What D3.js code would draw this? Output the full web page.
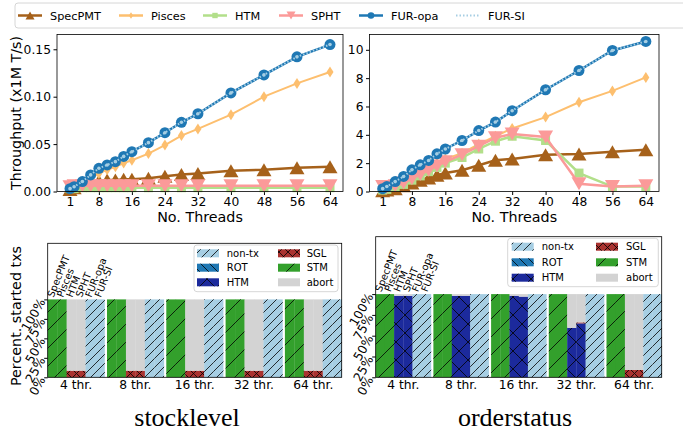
<!DOCTYPE html>
<html>
<head>
<meta charset="utf-8">
<script src="https://cdn.jsdelivr.net/npm/d3@7"></script>
<style>
  body { margin: 0; background: #fff; }
  text { font-family: "DejaVu Sans", sans-serif; fill: #000; }
</style>
</head>
<body>
<div id="chart"></div>
<script>
// ---- data ----
const threads = [1, 2, 4, 6, 8, 10, 12, 14, 16, 20, 24, 28, 32, 40, 48, 56, 64];
const xTicks = [1, 8, 16, 24, 32, 40, 48, 56, 64];
const systems = ["SpecPMT", "Pisces", "HTM", "SPHT", "FUR-opa", "FUR-SI"];

// stocklevel throughput (x1M T/s)
const stockSpecPMT = [0.002, 0.004, 0.007, 0.010, 0.011, 0.012, 0.012, 0.013, 0.013, 0.014, 0.016, 0.018, 0.019, 0.022, 0.023, 0.025, 0.026];
const stockPisces  = [0.003, 0.005, 0.009, 0.014, 0.019, 0.023, 0.026, 0.030, 0.033, 0.040, 0.049, 0.059, 0.066, 0.081, 0.100, 0.114, 0.126];
const stockHTM     = [0.003, 0.003, 0.004, 0.004, 0.004, 0.004, 0.004, 0.004, 0.004, 0.004, 0.004, 0.004, 0.004, 0.004, 0.004, 0.004, 0.004];
const stockSPHT    = [0.005, 0.006, 0.006, 0.006, 0.006, 0.006, 0.006, 0.006, 0.006, 0.006, 0.006, 0.006, 0.006, 0.006, 0.006, 0.006, 0.006];
const stockFURopa  = [0.003, 0.005, 0.0105, 0.0175, 0.0245, 0.028, 0.0315, 0.037, 0.042, 0.0515, 0.062, 0.073, 0.082, 0.104, 0.123, 0.142, 0.155];
const stockFURSI   = [0.003, 0.005, 0.0105, 0.0175, 0.0245, 0.028, 0.0315, 0.037, 0.042, 0.0515, 0.062, 0.073, 0.082, 0.104, 0.123, 0.142, 0.155];

// orderstatus throughput (x1M T/s)
const orderSpecPMT = [0.05, 0.1, 0.2, 0.4, 0.6, 0.8, 0.95, 1.15, 1.3, 1.5, 1.85, 2.2, 2.3, 2.6, 2.65, 2.8, 2.95];
const orderPisces  = [0.15, 0.3, 0.55, 0.85, 1.15, 1.45, 1.7, 2.0, 2.3, 2.7, 3.35, 3.9, 4.45, 5.25, 6.3, 7.1, 8.05];
const orderHTM     = [0.1, 0.15, 0.3, 0.5, 0.8, 1.1, 1.4, 1.7, 2.0, 2.4, 3.0, 3.55, 3.9, 3.6, 1.3, 0.35, 0.35];
const orderSPHT    = [0.35, 0.3, 0.4, 0.6, 0.9, 1.2, 1.5, 1.8, 2.1, 2.6, 3.2, 3.8, 4.05, 3.85, 0.55, 0.35, 0.4];
const orderFURopa  = [0.2, 0.35, 0.7, 1.06, 1.53, 1.88, 2.19, 2.66, 3.0, 3.6, 4.3, 4.9, 5.7, 7.18, 8.54, 9.95, 10.59];
const orderFURSI   = [0.2, 0.35, 0.7, 1.06, 1.53, 1.88, 2.19, 2.66, 3.0, 3.6, 4.3, 4.9, 5.7, 7.18, 8.54, 9.95, 10.59];

// share of started txs: rows = systems, columns = thread groups
const thrLabels = ["4 thr.", "8 thr.", "16 thr.", "32 thr.", "64 thr."];
const txTypes = ["non-tx", "ROT", "HTM", "SGL", "STM", "abort"];

const stockNonTx = [[0,0,0,0,0],[0,0,0,0,0],[0,0,0,0,0],[0,0,0,0,0],[1,1,1,1,1],[1,1,1,1,1]];
const stockROT   = [[0,0,0,0,0],[0,0,0,0,0],[0,0,0,0,0],[0,0,0,0,0],[0,0,0,0,0],[0,0,0,0,0]];
const stockHTMtx = [[0,0,0,0,0],[0,0,0,0,0],[0,0,0,0,0],[0,0,0,0,0],[0,0,0,0,0],[0,0,0,0,0]];
const stockSGL   = [[0,0,0,0,0],[0,0,0,0,0],[0.085,0.085,0.085,0.085,0.085],[0.085,0.085,0.085,0.085,0.085],[0,0,0,0,0],[0,0,0,0,0]];
const stockSTM   = [[1,1,1,1,1],[1,1,1,1,1],[0,0,0,0,0],[0,0,0,0,0],[0,0,0,0,0],[0,0,0,0,0]];
const stockAbort = [[0,0,0,0,0],[0,0,0,0,0],[0.915,0.915,0.915,0.915,0.915],[0.915,0.915,0.915,0.915,0.915],[0,0,0,0,0],[0,0,0,0,0]];

const orderNonTx = [[0,0,0,0,0],[0,0,0,0,0],[0,0,0,0,0],[0,0,0,0,0],[1,1,1,1,1],[1,1,1,1,1]];
const orderROT   = [[0,0,0,0,0],[0,0,0,0,0],[0,0,0,0,0],[0,0,0,0,0],[0,0,0,0,0],[0,0,0,0,0]];
const orderHTMtx = [[0,0,0,0,0],[0,0,0,0,0],[0.98,0.98,0.98,0.595,0],[0.98,0.98,0.97,0.648,0],[0,0,0,0,0],[0,0,0,0,0]];
const orderSGL   = [[0,0,0,0,0],[0,0,0,0,0],[0,0,0,0,0.088],[0,0,0,0.012,0.088],[0,0,0,0,0],[0,0,0,0,0]];
const orderSTM   = [[1,1,1,1,1],[1,1,1,1,1],[0,0,0,0,0],[0,0,0,0,0],[0,0,0,0,0],[0,0,0,0,0]];
const orderAbort = [[0,0,0,0,0],[0,0,0,0,0],[0.02,0.02,0.02,0.405,0.912],[0.02,0.02,0.03,0.34,0.912],[0,0,0,0,0],[0,0,0,0,0]];

// ---- styles ----
const lineColor = {"SpecPMT": "#a6611a", "Pisces": "#fdbf6f", "HTM": "#b2df8a", "SPHT": "#fb9a99", "FUR-opa": "#1f78b4", "FUR-SI": "#a6cee3"};
const txColor = {"non-tx": "#a6cee3", "ROT": "#1f78b4", "HTM": "#1c2a9c", "SGL": "#aa3330", "STM": "#33a02c", "abort": "#d3d3d3"};
const txHatch = {"non-tx": "h-fine-fwd", "ROT": "h-fine-back", "HTM": "h-cross", "SGL": "h-fine-cross", "STM": "h-fwd", "abort": null};

const svg = d3.select("#chart").append("svg")
    .attr("width", 683)
    .attr("height", 433);

const defs = svg.append("defs");
function hatch(id, p, kinds) {
  let d = "";
  if (kinds.includes("/")) d += `M${-p/2},${p/2}L${p/2},${-p/2}M0,${p}L${p},0M${p/2},${1.5*p}L${1.5*p},${p/2}`;
  if (kinds.includes("\\")) d += `M${-p/2},${p/2}L${p/2},${1.5*p}M0,0L${p},${p}M${p/2},${-p/2}L${1.5*p},${p/2}`;
  defs.append("pattern")
      .attr("id", id)
      .attr("patternUnits", "userSpaceOnUse")
      .attr("width", p).attr("height", p)
    .append("path")
      .attr("d", d)
      .attr("stroke", "#000")
      .attr("stroke-width", 0.8)
      .attr("fill", "none");
}
hatch("h-fwd", 18, "/");
hatch("h-fine-fwd", 9, "/");
hatch("h-fine-back", 9, "\\");
hatch("h-cross", 18, "/\\");
hatch("h-fine-cross", 9, "/\\");

function marker(name) {
  switch (name) {
    case "SpecPMT": return "M0,-6.5L7.5,6.5L-7.5,6.5Z";
    case "SPHT":    return "M0,6.5L7.5,-6.5L-7.5,-6.5Z";
    case "Pisces":  return "M0,-5.5L3.5,0L0,5.5L-3.5,0Z";
    case "HTM":     return "M-4.5,-4.5H4.5V4.5H-4.5Z";
    case "FUR-opa": return d3.symbol(d3.symbolCircle, Math.PI * 5.5 * 5.5)();
    default:        return d3.symbol(d3.symbolCircle, Math.PI * 1.8 * 1.8)();
  }
}

// ---- throughput line panels ----
function linePanel(p) {
  const x = d3.scaleLinear().domain([-2.15, 67.15]).range([p.left, p.right]);
  const y = d3.scaleLinear().domain([0, p.ymax]).range([p.bottom, p.top]);
  const g = svg.append("g");

  g.append("g")
      .attr("transform", `translate(0,${p.bottom})`)
      .call(d3.axisBottom(x).tickValues(xTicks).tickSize(3.5).tickPadding(2.5))
      .call(a => a.select(".domain").remove())
      .selectAll("text").style("font-size", "12.3px");

  g.append("g")
      .attr("transform", `translate(${p.left},0)`)
      .call(d3.axisLeft(y).tickValues(p.yTicks).tickFormat(p.fmt).tickSize(3.5).tickPadding(2.5))
      .call(a => a.select(".domain").remove())
      .selectAll("text").style("font-size", "12.3px");

  systems.forEach((s, i) => {
    const vals = p.series[i];
    const pts = threads.map((t, j) => [t, vals[j]]);
    const line = d3.line().x(d => x(d[0])).y(d => y(d[1]));
    g.append("path")
        .datum(pts)
        .attr("fill", "none")
        .attr("stroke", lineColor[s])
        .attr("stroke-width", s === "FUR-SI" ? 2 : (s === "Pisces" ? 2 : 2.5))
        .attr("stroke-dasharray", s === "FUR-SI" ? "1.5,2" : null)
        .attr("d", line);
    g.selectAll(null)
      .data(pts)
      .join("path")
        .attr("transform", d => `translate(${x(d[0])},${y(d[1])})`)
        .attr("d", marker(s))
        .attr("fill", lineColor[s]);
  });

  g.append("rect")
      .attr("x", p.left).attr("y", p.top)
      .attr("width", p.right - p.left).attr("height", p.bottom - p.top)
      .attr("fill", "none").attr("stroke", "#000").attr("stroke-width", 0.8);

  g.append("text")
      .attr("x", (p.left + p.right) / 2)
      .attr("y", 221.5)
      .attr("text-anchor", "middle")
      .style("font-size", "14.3px")
      .text("No. Threads");
}

linePanel({left: 57, right: 343, top: 34.5, bottom: 191.5, ymax: 0.1656,
  yTicks: [0, 0.05, 0.10, 0.15], fmt: d3.format(".2f"),
  series: [stockSpecPMT, stockPisces, stockHTM, stockSPHT, stockFURopa, stockFURSI]});
linePanel({left: 369.5, right: 659, top: 34.5, bottom: 191.5, ymax: 11.08,
  yTicks: [0, 2, 4, 6, 8, 10], fmt: d3.format("d"),
  series: [orderSpecPMT, orderPisces, orderHTM, orderSPHT, orderFURopa, orderFURSI]});

svg.append("text")
    .attr("transform", "translate(20.5,113) rotate(-90)")
    .attr("text-anchor", "middle")
    .style("font-size", "14.3px")
    .text("Throughput (x1M T/s)");

// top legend
const leg = svg.append("g");
leg.append("rect")
    .attr("x", 15).attr("y", 3).attr("width", 700).attr("height", 25).attr("rx", 3)
    .attr("fill", "#fff").attr("stroke", "#ccc").attr("stroke-width", 0.8);
const legX = [18, 119, 203, 279, 359, 456];
systems.forEach((s, i) => {
  const lg = leg.append("g").attr("transform", `translate(${legX[i]},15.5)`);
  lg.append("line")
      .attr("x1", 0).attr("x2", 24)
      .attr("stroke", lineColor[s])
      .attr("stroke-width", s === "FUR-SI" ? 2 : 2.5)
      .attr("stroke-dasharray", s === "FUR-SI" ? "1.5,2" : null);
  if (s !== "FUR-SI") {
    lg.append("path")
        .attr("transform", "translate(12,0) scale(0.6)")
        .attr("d", marker(s))
        .attr("fill", lineColor[s]);
  }
  lg.append("text")
      .attr("x", 32).attr("y", 4.2)
      .style("font-size", "11.3px")
      .text(s);
});

// ---- transaction share bar panels ----
function barPanel(p) {
  const y = d3.scaleLinear().domain([0, p.ymax]).range([p.bottom, p.top]);
  const gap = 2.5;
  const band = (p.right - p.left + gap) / thrLabels.length;
  const bw = (band - gap) / systems.length;
  const g = svg.append("g");

  thrLabels.forEach((lab, gi) => {
    systems.forEach((s, si) => {
      const x0 = p.left + gi * band + si * bw;
      let acc = 0;
      txTypes.forEach(t => {
        const v = p.data[t][si][gi];
        if (v <= 0) return;
        const y1 = y(acc + v), y0 = y(acc);
        g.append("rect")
            .attr("x", x0).attr("y", y1).attr("width", bw + 0.3).attr("height", y0 - y1)
            .attr("fill", txColor[t]);
        if (txHatch[t]) {
          g.append("rect")
              .attr("x", x0).attr("y", y1).attr("width", bw + 0.3).attr("height", y0 - y1)
              .attr("fill", `url(#${txHatch[t]})`);
        }
        acc += v;
      });
      if (gi === 0) {
        g.append("text")
            .attr("transform", `translate(${x0 + bw / 2 + 1},${y(1) - 1.5}) rotate(-68)`)
            .style("font-size", "9.8px")
            .style("font-weight", "500")
            .text(s);
      }
    });
    g.append("text")
        .attr("x", p.left + gi * band + (band - gap) / 2)
        .attr("y", 388.5)
        .attr("text-anchor", "middle")
        .style("font-size", "12.3px")
        .text(lab);
  });

  const ya = g.append("g")
      .attr("transform", `translate(${p.left},0)`)
      .call(d3.axisLeft(y).tickValues([0, 0.25, 0.5, 0.75, 1]).tickFormat(d3.format(".0%")).tickSize(3.5))
      .call(a => a.select(".domain").remove());
  ya.selectAll("text")
      .attr("x", null).attr("dy", "0.3em")
      .attr("transform", "translate(-5,0) rotate(-60)")
      .attr("text-anchor", "end")
      .style("font-size", "12.3px");

  g.append("rect")
      .attr("x", p.left).attr("y", p.top)
      .attr("width", p.right - p.left).attr("height", p.bottom - p.top)
      .attr("fill", "none").attr("stroke", "#000").attr("stroke-width", 0.8);

  // legend
  const L = p.legend;
  g.append("rect")
      .attr("x", L.x).attr("y", L.y).attr("width", L.w).attr("height", L.h).attr("rx", 3)
      .attr("fill", "#fff").attr("fill-opacity", 0.85).attr("stroke", "#ccc").attr("stroke-width", 0.8);
  txTypes.forEach((t, i) => {
    const col = Math.floor(i / 3), row = i % 3;
    const px = L.patchX[col], py = L.rows[row];
    g.append("rect").attr("x", px).attr("y", py - 4).attr("width", 22).attr("height", 8).attr("fill", txColor[t]);
    if (txHatch[t]) {
      g.append("rect").attr("x", px).attr("y", py - 4).attr("width", 22).attr("height", 8).attr("fill", `url(#${txHatch[t]})`);
    }
    g.append("text")
        .attr("x", L.textX[col]).attr("y", py + 3.6)
        .style("font-size", "10px")
        .text(t);
  });

  svg.append("text")
      .attr("x", p.titleX).attr("y", 426)
      .attr("text-anchor", "middle")
      .style("font-family", "'Liberation Serif', serif")
      .style("font-size", "26px")
      .text(p.title);
}

barPanel({left: 47.7, right: 341.7, top: 243.3, bottom: 377.3, ymax: 1.72,
  data: {"non-tx": stockNonTx, "ROT": stockROT, "HTM": stockHTMtx, "SGL": stockSGL, "STM": stockSTM, "abort": stockAbort},
  legend: {x: 194, y: 245, w: 144, h: 46.7, rows: [253.3, 267.7, 282.3], patchX: [197, 278], textX: [226.7, 306.7]},
  title: "stocklevel", titleX: 187});

barPanel({left: 375.7, right: 661.7, top: 236.7, bottom: 377.3, ymax: 1.69,
  data: {"non-tx": orderNonTx, "ROT": orderROT, "HTM": orderHTMtx, "SGL": orderSGL, "STM": orderSTM, "abort": orderAbort},
  legend: {x: 507.7, y: 238.3, w: 150.6, h: 48.4, rows: [246.7, 262.3, 277.7], patchX: [511.7, 596], textX: [541.7, 626]},
  title: "orderstatus", titleX: 515});

svg.append("text")
    .attr("transform", "translate(20.5,316) rotate(-90)")
    .attr("text-anchor", "middle")
    .style("font-size", "14.3px")
    .text("Percent. started txs");
</script>
</body>
</html>
